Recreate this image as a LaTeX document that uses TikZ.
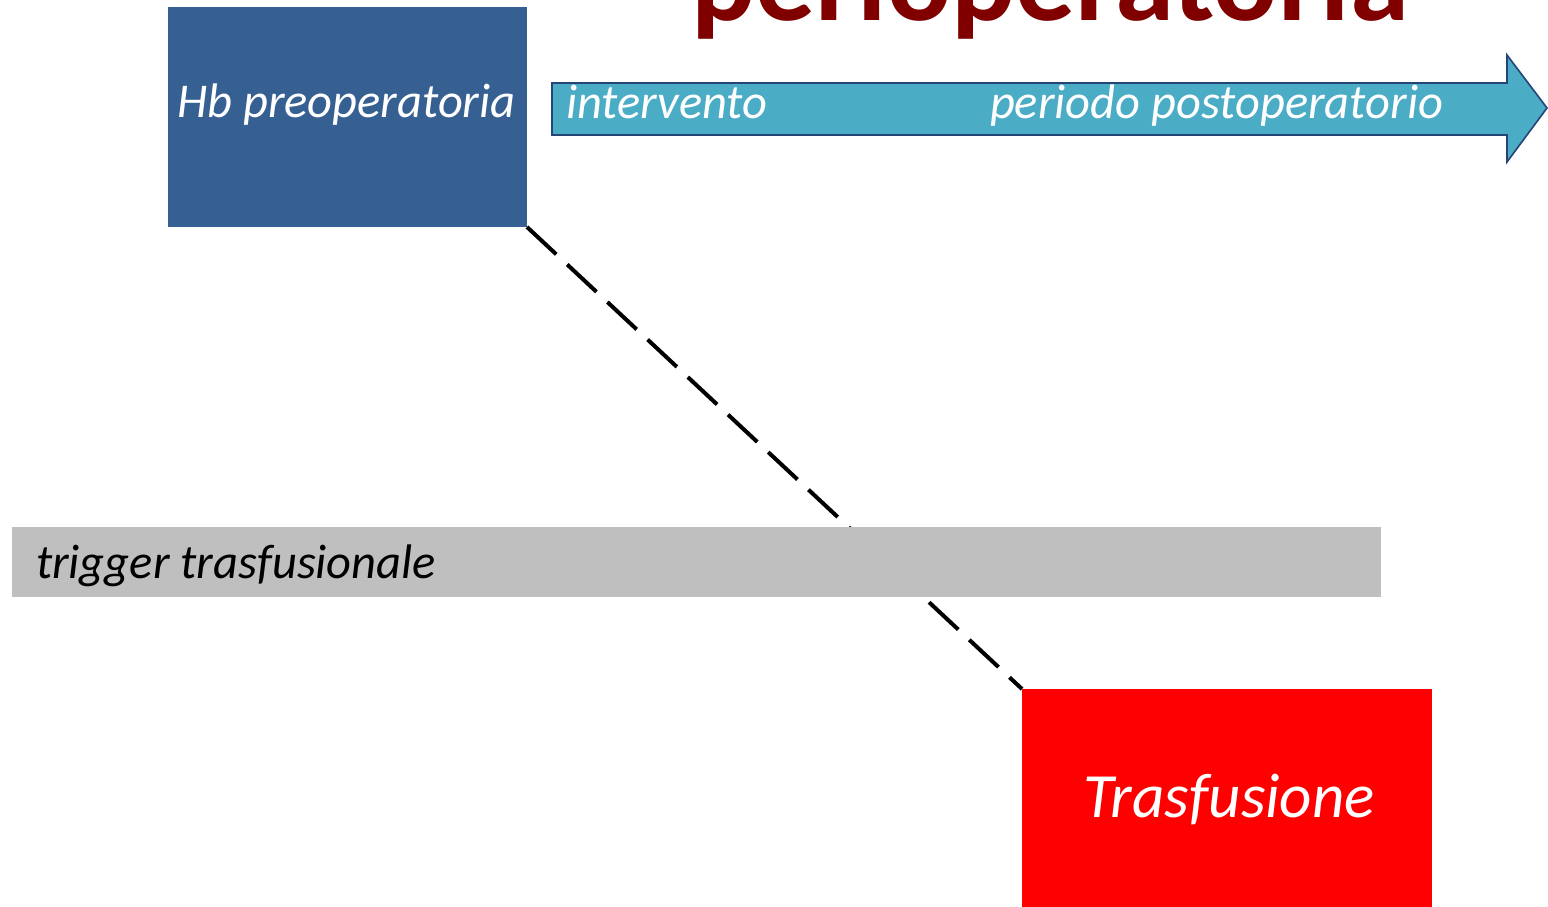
\documentclass[tikz,border=0pt]{standalone}
\usepackage{fontspec}
\setmainfont{Carlito}
\definecolor{hbblue}{RGB}{55,96,146}
\definecolor{arrowfill}{RGB}{75,172,198}
\definecolor{arrowline}{RGB}{37,68,120}
\definecolor{barg}{RGB}{191,191,191}
\definecolor{titlered}{RGB}{128,0,0}
\begin{document}
\begin{tikzpicture}[x=1pt,y=-1pt,
  box/.style={draw=none,inner sep=0pt,outer sep=0pt,anchor=north west},
  lbl/.style={inner sep=0pt,outer sep=0pt,anchor=base west,font=\fontsize{48.5}{52}\selectfont\itshape},
  dashline/.style={line width=4pt,dash pattern=on 40pt off 15pt}]
\useasboundingbox (0,0) rectangle (1548,906);
\clip (0,0) rectangle (1548,906);
\fill[white] (0,0) rectangle (1548,906);
% title
\node[inner sep=0pt,anchor=base west,text=titlered,font=\fontsize{119.5}{122}\selectfont\bfseries] (title) at (691,20) {perioperatoria};
% boxes
\node[box,fill=hbblue,minimum width=359pt,minimum height=220pt] (hb) at (168,7) {};
\node[box,fill=red,minimum width=410pt,minimum height=218pt] (tr) at (1022,689) {};
% dashed connector
\draw[dashline] (hb.south east) -- (tr.north west);
% gray bar
\node[box,fill=barg,minimum width=1369pt,minimum height=70pt] (bar) at (12,527) {};
% arrow
\draw[line width=1.6pt,draw=arrowline,fill=arrowfill,line join=miter]
  (552,83) -- (1507,83) -- (1507,55) -- (1547,108) -- (1507,162) -- (1507,135) -- (552,135) -- cycle;
\coordinate (arrowtip) at (1547,108);
% labels
\node[lbl,text=white] (hbt) at (177,117) {Hb preoperatoria};
\node[lbl,text=white] (int) at (566,118) {intervento};
\node[lbl,text=white] (post) at (990,118) {periodo postoperatorio};
\node[lbl,text=black] (trig) at (36,578) {trigger trasfusionale};
\node[inner sep=0pt,anchor=base,text=white,font=\fontsize{63}{66}\selectfont\itshape] (trt) at (1229,817) {Trasfusione};
\end{tikzpicture}
\end{document}
